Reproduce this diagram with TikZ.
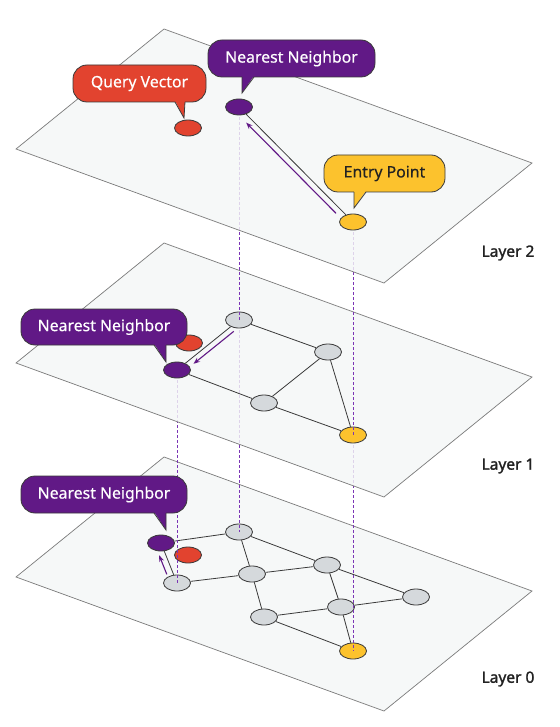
\documentclass[tikz,border=0pt]{standalone}
\usepackage{fontspec}
\setmainfont{Noto Sans}
\newfontfamily\bubfont{Noto Sans}[FakeBold=0.4]
\newfontfamily\labfont{Noto Sans}[FakeBold=1.6]
\usetikzlibrary{arrows.meta,shapes.geometric}
\definecolor{planefill}{HTML}{F4F6F6}
\definecolor{planeedge}{HTML}{7A7A7A}
\definecolor{qred}{HTML}{E2432F}
\definecolor{qpurple}{HTML}{611986}
\definecolor{qyellow}{HTML}{FCC22D}
\definecolor{ngrey}{HTML}{D5D9DC}
\definecolor{nedge}{HTML}{3A3A3A}
\definecolor{vpurple}{HTML}{7B35B5}
\definecolor{labcol}{HTML}{222222}
\pgfdeclarelayer{pl0}
\pgfdeclarelayer{g0}
\pgfdeclarelayer{v01}
\pgfdeclarelayer{pl1}
\pgfdeclarelayer{g1}
\pgfdeclarelayer{v12}
\pgfdeclarelayer{pl2}
\pgfdeclarelayer{g2}
\pgfsetlayers{pl0,g0,v01,pl1,g1,v12,pl2,g2,main}
% #1 L, #2 T, #3 R, #4 B, #5 tail x1, #6 tail x2, #7 tip x, #8 tip y, #9 colour
\newcommand{\callbubble}[9]{%
  \draw[bedge, fill=#9, rounded corners=14pt] (#1,#2) rectangle (#3,#4);
  \fill[#9] ({#5},{#4-1.2}) -- ({#6},{#4-1.2}) -- (#7,#8) -- cycle;
  \draw[bedge, line join=miter] (#5,#4) -- (#7,#8) -- (#6,#4);
}
\begin{document}
\begin{tikzpicture}[x=1pt, y=-1pt,
  plane/.style={draw=planeedge, line width=0.7pt, fill=planefill, fill opacity=0.82},
  vtx/.style={ellipse, minimum width=27pt, minimum height=16pt, inner sep=0pt, draw=nedge, line width=0.8pt},
  gv/.style={vtx, fill=ngrey},
  rv/.style={vtx, fill=qred},
  pv/.style={vtx, fill=qpurple},
  yv/.style={vtx, fill=qyellow},
  link/.style={draw=nedge, line width=0.8pt},
  vlink/.style={draw=vpurple, line width=0.8pt, dash pattern=on 3pt off 2pt},
  walk/.style={draw=qpurple, line width=1.1pt, -{Stealth[length=6.5pt,width=5pt]}},
  bedge/.style={draw=nedge, line width=0.8pt},
  btext/.style={font=\bubfont\fontsize{15.8}{19}\selectfont, text=white, inner sep=0pt},
  lab/.style={font=\labfont\fontsize{15.5}{19}\selectfont, text=labcol, inner sep=0pt}
]
\useasboundingbox (0,0) rectangle (559,727);

% ---------- planes ----------
\begin{pgfonlayer}{pl0}
\draw[plane] (164,457) -- (532,591) -- (384,711) -- (16,577) -- cycle;
\end{pgfonlayer}
\begin{pgfonlayer}{pl1}
\draw[plane] (164,243) -- (532,377) -- (384,497) -- (16,363) -- cycle;
\end{pgfonlayer}
\begin{pgfonlayer}{pl2}
\draw[plane] (164,29) -- (532,163) -- (384,283) -- (16,149) -- cycle;
\end{pgfonlayer}

% ---------- layer 0 ----------
\begin{pgfonlayer}{g0}
\node[pv] (nn0) at (161,543) {};
\node[rv] (r0)  at (188,555) {};
\node[gv] (d0)  at (177,583) {};
\node[gv] (e0)  at (239,532) {};
\node[gv] (f0)  at (252,574) {};
\node[gv] (g0n) at (264,617) {};
\node[gv] (h0)  at (327,565) {};
\node[gv] (i0)  at (341,607) {};
\node[gv] (j0)  at (416,597) {};
\node[yv] (y0)  at (353,651) {};
\draw[link] (nn0) -- (e0);
\draw[link] (e0) -- (f0);
\draw[link] (e0) -- (h0);
\draw[link] (d0) -- (f0);
\draw[link] (d0) -- (nn0);
\draw[link] (f0) -- (h0);
\draw[link] (f0) -- (g0n);
\draw[link] (h0) -- (i0);
\draw[link] (h0) -- (j0);
\draw[link] (i0) -- (j0);
\draw[link] (g0n) -- (i0);
\draw[link] (g0n) -- (y0);
\draw[link] (i0) -- (y0);
\draw[walk, transform canvas={shift={(-5.8,2.3)}}, shorten <=3pt, shorten >=2pt] (d0) -- (nn0);
\end{pgfonlayer}

% ---------- layer 1 ----------
\begin{pgfonlayer}{g1}
\node[gv] (a1)  at (239,320) {};
\node[rv] (r1)  at (189,343) {};
\node[pv] (nn1) at (177,370) {};
\node[gv] (b1)  at (328,352) {};
\node[gv] (c1)  at (264,403) {};
\node[yv] (y1)  at (353,435) {};
\draw[link] (a1) -- (nn1);
\draw[link] (a1) -- (b1);
\draw[link] (nn1) -- (c1);
\draw[link] (c1) -- (b1);
\draw[link] (b1) -- (y1);
\draw[link] (c1) -- (y1);
\draw[walk, transform canvas={shift={(3.5,4.3)}}, shorten <=0.5pt, shorten >=6pt] (a1) -- (nn1);
\end{pgfonlayer}

% ---------- layer 2 ----------
\begin{pgfonlayer}{g2}
\node[rv] (qv2) at (188,128) {};
\node[pv] (nn2) at (239,107) {};
\node[yv] (ep2) at (353,222) {};
\draw[link] (nn2) -- (ep2);
\draw[walk, transform canvas={shift={(-4.2,4.2)}}, shorten <=8pt, shorten >=6pt] (ep2) -- (nn2);
\end{pgfonlayer}

% ---------- vertical links ----------
\begin{pgfonlayer}{v01}
\draw[vlink] (nn1.center) -- (d0.center);
\draw[vlink] (a1.center) -- (e0.center);
\draw[vlink] (y1.center) -- (y0.center);
\end{pgfonlayer}
\begin{pgfonlayer}{v12}
\draw[vlink] (nn2.center) -- (a1.center);
\draw[vlink] (ep2.center) -- (y1.center);
\end{pgfonlayer}

% ---------- callouts ----------
\callbubble{73}{65}{206}{102}{175}{185}{184}{118}{qred}
\node[btext] (qvtext) at (139.5,83.5) {Query Vector};
\callbubble{208}{40}{375}{77}{242}{254}{242}{93}{qpurple}
\node[btext] (nn2text) at (291.5,58.5) {Nearest Neighbor};
\callbubble{324}{155}{445}{192}{354}{366}{354}{208}{qyellow}
\node[btext, text=labcol] (eptext) at (384.5,173.5) {Entry Point};
\callbubble{21}{309}{187}{345}{154}{166}{166}{362}{qpurple}
\node[btext] (nn1text) at (104,327) {Nearest Neighbor};
\callbubble{21}{476}{187}{513}{154}{166}{166}{530}{qpurple}
\node[btext] (nn0text) at (104,494.5) {Nearest Neighbor};

% ---------- layer labels ----------
\node[lab] (lab2) at (508,253) {Layer 2};
\node[lab] (lab1) at (508,466) {Layer 1};
\node[lab] (lab0) at (508,679) {Layer 0};
\end{tikzpicture}
\end{document}
